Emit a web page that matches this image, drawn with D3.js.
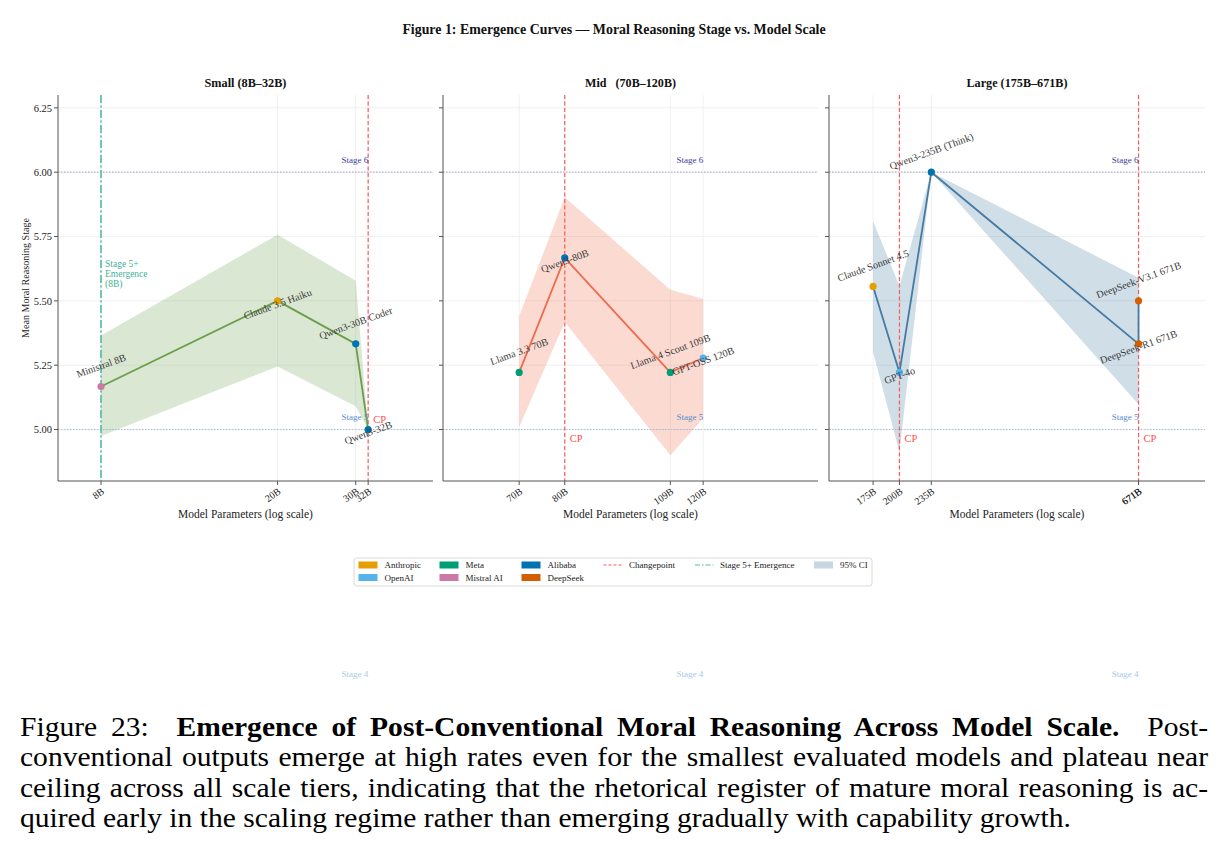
<!DOCTYPE html>
<html><head><meta charset="utf-8">
<script src="https://cdn.jsdelivr.net/npm/d3@7"></script>
<style>
html,body{margin:0;padding:0;background:#fff;}
svg{display:block;font-family:"Liberation Serif","Times New Roman",serif;}
</style></head>
<body>
<svg id="chart" width="1225" height="856"></svg>
<script>
// ---------- data ----------
const figureTitle = "Figure 1: Emergence Curves — Moral Reasoning Stage vs. Model Scale";
const tierTitles = ["Small (8B–32B)", "Mid\u00a0\u00a0\u00a0(70B–120B)", "Large (175B–671B)"];

const smallModels = ["Ministral 8B", "Claude 3.5 Haiku", "Qwen3-30B Coder", "Qwen3-32B"];
const smallParams = [8, 20, 30, 32];
const smallScores = [5.167, 5.5, 5.333, 5.0];
const smallCiLow  = [4.975, 5.245, 5.09, 5.0];
const smallCiHigh = [5.365, 5.757, 5.578, 5.0];
const smallOrgs   = ["Mistral AI", "Anthropic", "Alibaba", "Alibaba"];

const midModels = ["Llama 3.3 70B", "Qwen3-80B", "Llama 4 Scout 109B", "GPT-OSS 120B"];
const midParams = [70, 80, 109, 120];
const midScores = [5.222, 5.667, 5.222, 5.278];
const midCiLow  = [5.01, 5.418, 4.90, 5.043];
const midCiHigh = [5.44, 5.903, 5.543, 5.507];
const midOrgs   = ["Meta", "Alibaba", "Meta", "OpenAI"];

const largeModels = ["Claude Sonnet 4.5", "GPT-4o", "Qwen3-235B (Think)", "DeepSeek-R1 671B", "DeepSeek-V3.1 671B"];
const largeParams = [175, 200, 235, 671, 671];
const largeScores = [5.556, 5.222, 6.0, 5.333, 5.5];
const largeCiLow  = [5.301, 4.913, 6.0, 5.098, 5.45];
const largeCiHigh = [5.809, 5.558, 6.0, 5.59, 5.6];
const largeOrgs   = ["Anthropic", "OpenAI", "Alibaba", "DeepSeek", "DeepSeek"];

const changepoints = [[32], [80], [200, 671]];
const cpLabelY = [[5.04], [4.965], [4.965, 4.965]];
const emergenceParam = [8, null, null];
const emergenceLabel = ["Stage 5+", "Emergence", "(8B)"];

const yTicks = [5.0, 5.25, 5.5, 5.75, 6.0, 6.25];
const yDomain = [4.8, 6.3];
const stageValues = [4, 5, 6];
const stageLabels = ["Stage 4", "Stage 5", "Stage 6"];

const orgNames  = ["Anthropic", "OpenAI", "Meta", "Mistral AI", "Alibaba", "DeepSeek"];
const orgColors = ["#E69F00", "#56B4E9", "#009E73", "#CC79A7", "#0072B2", "#D55E00"];
const tierLineColors = ["#6b9e4a", "#ee6c4d", "#457ba3"];

const captionLines = [
  ["Figure 23:  ", "Emergence of Post-Conventional Moral Reasoning Across Model Scale.", "  Post-"],
  "conventional outputs emerge at high rates even for the smallest evaluated models and plateau near",
  "ceiling across all scale tiers, indicating that the rhetorical register of mature moral reasoning is ac-",
  "quired early in the scaling regime rather than emerging gradually with capability growth."
];

// ---------- helpers ----------
function fitWidth(sel, target) {
  const fs = +sel.attr("font-size");
  const w = sel.node().getComputedTextLength();
  if (w > 0) sel.attr("font-size", fs * target / w);
  return sel;
}

// ---------- styles / layout ----------
const stageTextColors = {4: "#a8cbe8", 5: "#5a8dcb", 6: "#3d3d9c"};
const stageLineColors = {4: "#a8cbe8", 5: "#9dbbe0", 6: "#b3b3d3"};
const orgColor = d3.scaleOrdinal(orgNames, orgColors);

const svg = d3.select("#chart");
svg.append("rect").attr("width", 1225).attr("height", 856).attr("fill", "#fff");

fitWidth(svg.append("text").attr("x", 614).attr("y", 34).attr("text-anchor", "middle")
  .attr("font-size", 11.5).attr("font-weight", "bold").attr("fill", "#111").text(figureTitle), 424);

const panels = [
  {models: smallModels, params: smallParams, scores: smallScores, lo: smallCiLow, hi: smallCiHigh, orgs: smallOrgs, left: 58, right: 433, titleW: 82},
  {models: midModels, params: midParams, scores: midScores, lo: midCiLow, hi: midCiHigh, orgs: midOrgs, left: 443, right: 818, titleW: 91},
  {models: largeModels, params: largeParams, scores: largeScores, lo: largeCiLow, hi: largeCiHigh, orgs: largeOrgs, left: 829, right: 1205, titleW: 101}
];
const axTop = 95, axBottom = 481;
const y = d3.scaleLinear().domain(yDomain).range([axBottom, axTop]);

panels.forEach((p, pi) => {
  const x = d3.scaleLog().domain([d3.min(p.params) * 0.8, d3.max(p.params) * 1.4]).range([p.left, p.right]);
  const g = svg.append("g");
  const clipId = "clip" + pi;
  svg.append("clipPath").attr("id", clipId).append("rect")
    .attr("x", p.left).attr("y", axTop).attr("width", p.right - p.left).attr("height", axBottom - axTop);
  const pts = p.params.map((v, i) => ({x: v, y: p.scores[i], lo: p.lo[i], hi: p.hi[i], name: p.models[i], org: p.orgs[i], i}));
  const uniqTicks = Array.from(new Set(p.params));

  // grid
  const grid = g.append("g").attr("clip-path", `url(#${clipId})`);
  grid.selectAll(".gy").data(yTicks).join("line")
    .attr("x1", p.left).attr("x2", p.right).attr("y1", d => y(d)).attr("y2", d => y(d))
    .attr("stroke", "#ececec").attr("stroke-width", 0.8);
  grid.selectAll(".gx").data(uniqTicks).join("line")
    .attr("x1", d => x(d)).attr("x2", d => x(d)).attr("y1", axTop).attr("y2", axBottom)
    .attr("stroke", "#ececec").attr("stroke-width", 0.8);

  const plot = g.append("g").attr("clip-path", `url(#${clipId})`);
  // CI band
  const area = d3.area().x(d => x(d.x)).y0(d => y(d.lo)).y1(d => y(d.hi));
  plot.append("path").datum(pts).attr("d", area).attr("fill", tierLineColors[pi]).attr("fill-opacity", 0.25);

  // stage lines
  plot.selectAll(".stage").data(stageValues).join("line")
    .attr("x1", p.left).attr("x2", p.right).attr("y1", d => y(d)).attr("y2", d => y(d))
    .attr("stroke", d => stageLineColors[d]).attr("stroke-width", d => d === 6 ? 1.2 : 0.9)
    .attr("stroke-dasharray", "1.5,1.5");

  // changepoints
  plot.selectAll(".cp").data(changepoints[pi]).join("line")
    .attr("x1", d => x(d)).attr("x2", d => x(d)).attr("y1", axTop).attr("y2", axBottom)
    .attr("stroke", "#ff5a5a").attr("stroke-width", 1.2).attr("stroke-dasharray", "4,2.5");

  // emergence
  if (emergenceParam[pi] != null) {
    plot.append("line").attr("x1", x(emergenceParam[pi])).attr("x2", x(emergenceParam[pi]))
      .attr("y1", axTop).attr("y2", axBottom).attr("stroke", "#4cbfa6").attr("stroke-width", 1.6)
      .attr("stroke-dasharray", "8,2.5,2,2.5");
  }

  // line
  plot.append("path").datum(pts).attr("d", d3.line().x(d => x(d.x)).y(d => y(d.y)))
    .attr("fill", "none").attr("stroke", tierLineColors[pi]).attr("stroke-width", 1.8);

  // points
  plot.selectAll(".pt").data(pts).join("circle")
    .attr("cx", d => x(d.x)).attr("cy", d => y(d.y)).attr("r", 3.6).attr("fill", d => orgColor(d.org));

  // stage labels (unclipped)
  g.selectAll(".stl").data(stageValues).join("text")
    .attr("x", x(d3.max(p.params))).attr("y", d => y(d) - 9.5)
    .attr("text-anchor", "end").attr("font-size", 9).attr("fill", d => stageTextColors[d])
    .text((d, i) => stageLabels[i]);

  // CP labels
  g.selectAll(".cpl").data(changepoints[pi]).join("text")
    .attr("x", d => x(d) + 5).attr("y", (d, i) => y(cpLabelY[pi][i])).attr("dy", "0.35em")
    .attr("font-size", 10.5).attr("fill", "#ff4d4d").text("CP");

  // emergence label
  if (emergenceParam[pi] != null) {
    g.selectAll(".eml").data(emergenceLabel).join("text")
      .attr("x", x(emergenceParam[pi]) + 4).attr("y", (d, i) => 267 + i * 9.8)
      .attr("font-size", 9.5).attr("fill", "#3fb39a").text(d => d);
  }

  // point labels
  g.selectAll(".pl").data(pts).join("text")
    .attr("transform", d => `translate(${x(d.x)},${y(d.y) + (d.i % 2 === 0 ? -21 : 3)}) rotate(-20)`)
    .attr("text-anchor", "middle").attr("dy", "0.35em")
    .attr("font-size", 10.2).attr("fill", "#3a3a3a").text(d => d.name);

  // axes spines
  g.append("line").attr("x1", p.left).attr("x2", p.right).attr("y1", axBottom).attr("y2", axBottom)
    .attr("stroke", "#555").attr("stroke-width", 1);
  g.append("line").attr("x1", p.left).attr("x2", p.left).attr("y1", axTop).attr("y2", axBottom)
    .attr("stroke", "#555").attr("stroke-width", 1);

  // y ticks
  g.selectAll(".yt").data(yTicks).join("line")
    .attr("x1", p.left - 4).attr("x2", p.left).attr("y1", d => y(d)).attr("y2", d => y(d))
    .attr("stroke", "#555");
  if (pi === 0) {
    g.selectAll(".ytl").data(yTicks).join("text")
      .attr("x", p.left - 6).attr("y", d => y(d)).attr("dy", "0.35em").attr("text-anchor", "end")
      .attr("font-size", 10.5).attr("fill", "#222").text(d => d3.format(".2f")(d));
    fitWidth(g.append("text").attr("transform", `translate(29,278) rotate(-90)`).attr("text-anchor", "middle")
      .attr("font-size", 11).attr("fill", "#222").text("Mean Moral Reasoning Stage"), 120);
  }

  // x ticks (all params, duplicates drawn twice)
  g.selectAll(".xt").data(p.params).join("line")
    .attr("x1", d => x(d)).attr("x2", d => x(d)).attr("y1", axBottom).attr("y2", axBottom + 4)
    .attr("stroke", "#555");
  g.selectAll(".xtl").data(p.params).join("text")
    .attr("transform", d => `translate(${x(d) + 2},${axBottom + 9}) rotate(-35)`)
    .attr("text-anchor", "end").attr("dy", "0.35em")
    .attr("font-size", 10).attr("fill", "#222").text(d => d + "B");

  fitWidth(g.append("text").attr("x", (p.left + p.right) / 2).attr("y", 518).attr("text-anchor", "middle")
    .attr("font-size", 11).attr("fill", "#222").text("Model Parameters (log scale)"), 135);

  fitWidth(g.append("text").attr("x", (p.left + p.right) / 2).attr("y", 87).attr("text-anchor", "middle")
    .attr("font-size", 11).attr("font-weight", "bold").attr("fill", "#111").text(tierTitles[pi]), p.titleW);
});

// ---------- legend ----------
const legend = svg.append("g");
legend.append("rect").attr("x", 354).attr("y", 558).attr("width", 518).attr("height", 28)
  .attr("rx", 2.5).attr("fill", "#fff").attr("stroke", "#d0d0d0").attr("stroke-width", 0.8);
const orgCols = [358.5, 439.5, 521.5];
const lfs = 9;
orgNames.forEach((o, i) => {
  const cx = orgCols[Math.floor(i / 2)], cy = i % 2 === 0 ? 565 : 577.5;
  legend.append("rect").attr("x", cx).attr("y", cy - 3.5).attr("width", 19).attr("height", 7).attr("fill", orgColors[i]);
  legend.append("text").attr("x", cx + 26).attr("y", cy).attr("dy", "0.35em").attr("font-size", lfs).attr("fill", "#222").text(o);
});
legend.append("line").attr("x1", 603.5).attr("x2", 622).attr("y1", 565).attr("y2", 565)
  .attr("stroke", "#ff5a5a").attr("stroke-width", 1.1).attr("stroke-dasharray", "3,2");
legend.append("text").attr("x", 629).attr("y", 565).attr("dy", "0.35em").attr("font-size", lfs).attr("fill", "#222").text("Changepoint");
legend.append("line").attr("x1", 695).attr("x2", 713.5).attr("y1", 565).attr("y2", 565)
  .attr("stroke", "#4cbfa6").attr("stroke-width", 1.1).attr("stroke-dasharray", "5,2,1.5,2");
legend.append("text").attr("x", 720).attr("y", 565).attr("dy", "0.35em").attr("font-size", lfs).attr("fill", "#222").text("Stage 5+ Emergence");
legend.append("rect").attr("x", 814).attr("y", 561.5).attr("width", 19).attr("height", 7).attr("fill", "#c6d6e2");
legend.append("text").attr("x", 840).attr("y", 565).attr("dy", "0.35em").attr("font-size", lfs).attr("fill", "#222").text("95% CI");

// ---------- caption ----------
const capBase = [736, 766.5, 797, 827.5];
const capSize = 27.7, capLeft = 20, capWidth = 1188, line2Natural = 1160;
const probe = svg.append("text").attr("font-size", capSize).attr("x", 0).attr("y", -100).text(captionLines[1]);
const sx = line2Natural / probe.node().getComputedTextLength();
probe.remove();
const cap = svg.append("g").attr("transform", `translate(${capLeft},0) scale(${sx},1)`);
captionLines.forEach((ln, i) => {
  const t = cap.append("text").attr("x", 0).attr("y", capBase[i]).attr("font-size", capSize)
    .attr("fill", "#000").style("white-space", "pre");
  let full;
  if (Array.isArray(ln)) {
    t.append("tspan").text(ln[0]);
    t.append("tspan").attr("font-weight", "bold").text(ln[1]);
    t.append("tspan").text(ln[2]);
    full = ln.join("");
  } else { t.text(ln); full = ln; }
  if (i < 3) {
    const natural = t.node().getComputedTextLength();
    const spaces = (full.match(/ /g) || []).length;
    const extra = capWidth / sx - natural;
    t.style("word-spacing", (extra / spaces) + "px");
  }
});
</script>
</body></html>
